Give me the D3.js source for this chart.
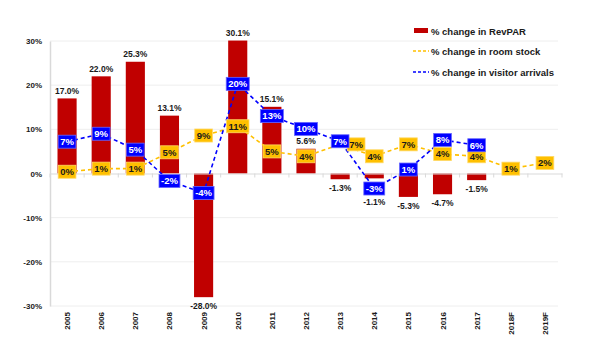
<!DOCTYPE html>
<html>
<head>
<meta charset="utf-8">
<script src="https://cdn.jsdelivr.net/npm/d3@7"></script>
<style>
  html, body { margin: 0; padding: 0; background: #fff; }
  svg { display: block; font-family: "Liberation Sans", Arial, sans-serif; }
</style>
</head>
<body>
<svg id="chart" width="600" height="360"></svg>
<script>
const categories = ["2005","2006","2007","2008","2009","2010","2011","2012","2013","2014","2015","2016","2017","2018F","2019F"];
const revpar = [0.170, 0.220, 0.253, 0.131, -0.280, 0.301, 0.151, 0.056, -0.013, -0.011, -0.053, -0.047, -0.015, null, null];
const roomStock = [0.004, 0.011, 0.011, 0.048, 0.086, 0.107, 0.050, 0.039, 0.066, 0.039, 0.066, 0.044, 0.039, 0.011, 0.024];
const visitorArrivals = [0.072, 0.090, 0.054, -0.017, -0.044, 0.203, 0.130, 0.101, 0.073, -0.034, 0.009, 0.076, 0.064, null, null];
const yTicks = [-0.3, -0.2, -0.1, 0, 0.1, 0.2, 0.3];
const seriesNames = ["% change in RevPAR", "% change in room stock", "% change in visitor arrivals"];

const colors = { bar: "#C00000", stock: "#FFC000", visitors: "#0000FF" };
const font = "\"Liberation Sans\", Arial, sans-serif";

const svg = d3.select("#chart");
const plotLeft = 50, plotRight = 562, plotTop = 41, plotBottom = 306;

const x = d3.scaleBand().domain(categories).range([plotLeft, plotRight]).paddingInner(0.44).paddingOuter(0.22);
const y = d3.scaleLinear().domain([-0.3, 0.3]).range([plotBottom, plotTop]);
const cx = c => x(c) + x.bandwidth() / 2;
const locale = d3.formatLocale({ decimal: ".", thousands: ",", grouping: [3], currency: ["$", ""], minus: "-", percent: "%" });
const pct0 = locale.format(".0%");
const pct1 = locale.format(".1%");

// gridlines
svg.append("g").selectAll("line").data(yTicks.filter(t => t !== 0)).join("line")
  .attr("x1", plotLeft).attr("x2", 558)
  .attr("y1", d => y(d)).attr("y2", d => y(d))
  .attr("stroke", "#eeeeee").attr("stroke-width", 1);

// y axis
const yAxis = d3.axisLeft(y).tickValues(yTicks).tickFormat(pct0).tickSize(0).tickPadding(8);
const gy = svg.append("g").attr("transform", `translate(${plotLeft},0)`).call(yAxis);
gy.select(".domain").attr("stroke", "#d9d9d9").attr("stroke-width", 1.5);
gy.selectAll("text").attr("font-family", font).attr("font-size", 8).attr("font-weight", "bold").attr("fill", "#1a1a1a");

// bars
const barData = categories.map((c, i) => ({ c, i, v: revpar[i] })).filter(d => d.v !== null);
svg.append("g").selectAll("rect").data(barData).join("rect")
  .attr("x", d => x(d.c)).attr("width", x.bandwidth())
  .attr("y", d => y(Math.max(0, d.v))).attr("height", d => Math.abs(y(d.v) - y(0)))
  .attr("fill", colors.bar);

// zero axis line with category ticks
const xAxis = d3.axisBottom(x).tickSize(0).tickFormat("");
const gx = svg.append("g").attr("transform", `translate(0,${y(0)})`).call(xAxis);
gx.select(".domain").attr("stroke", "#d9d9d9").attr("stroke-width", 1);
const boundaries = d3.range(categories.length + 1).map(i => plotLeft + i * x.step());
svg.append("g").selectAll("line").data(boundaries).join("line")
  .attr("x1", d => d).attr("x2", d => d).attr("y1", y(0)).attr("y2", y(0) + 4)
  .attr("stroke", "#d9d9d9").attr("stroke-width", 1);

// category labels
svg.append("g").selectAll("text").data(categories).join("text")
  .attr("transform", d => `translate(${cx(d) + 3},312) rotate(-90)`)
  .attr("text-anchor", "end")
  .attr("font-family", font).attr("font-size", 8).attr("font-weight", "bold").attr("fill", "#1a1a1a")
  .text(d => d);

// bar value labels (negative labels pushed below a visitor box that would cover them)
function barLabelY(d) {
  if (d.v >= 0) return y(d.v) - 4.5;
  let base = y(d.v) + 12;
  const vv = visitorArrivals[d.i];
  if (vv !== null) {
    const boxTop = y(vv) - 6.5, boxBottom = y(vv) + 6.5;
    if (base > boxTop && base - 8 < boxBottom) base = boxBottom + 10;
  }
  return base;
}
svg.append("g").selectAll("text").data(barData).join("text")
  .attr("x", d => cx(d.c))
  .attr("y", barLabelY)
  .attr("text-anchor", "middle")
  .attr("font-family", font).attr("font-size", 8.5).attr("font-weight", "bold").attr("fill", "#1a1a1a")
  .text(d => pct1(d.v));

// lines
const line = d3.line().defined(d => d.v !== null).x(d => cx(d.c)).y(d => y(d.v));
const stockData = categories.map((c, i) => ({ c, v: roomStock[i] }));
const visData = categories.map((c, i) => ({ c, v: visitorArrivals[i] }));

svg.append("path").datum(stockData).attr("d", line)
  .attr("fill", "none").attr("stroke", colors.stock).attr("stroke-width", 1.6).attr("stroke-dasharray", "4,3");
svg.append("path").datum(visData.filter(d => d.v !== null)).attr("d", line)
  .attr("fill", "none").attr("stroke", colors.visitors).attr("stroke-width", 1.6).attr("stroke-dasharray", "4,3");

// boxed labels
function boxLabels(data, fill, textFill, stroke, dxFn) {
  const g = svg.append("g");
  data.filter(d => d.v !== null).forEach(d => {
    const txt = pct0(d.v);
    const px = cx(d.c) + dxFn(d), py = y(d.v);
    const t = g.append("text")
      .attr("x", px).attr("y", py + 3.3)
      .attr("text-anchor", "middle")
      .attr("font-family", font).attr("font-size", 9.5).attr("font-weight", "bold").attr("fill", textFill)
      .text(txt);
    const w = t.node().getComputedTextLength() + 4;
    g.insert("rect", () => t.node())
      .attr("x", px - w / 2).attr("y", py - 6.5).attr("width", w).attr("height", 13)
      .attr("fill", fill).attr("stroke", stroke).attr("stroke-width", 0.8);
  });
}
boxLabels(stockData, colors.stock, "#1a1a1a", "#FFD966", d => {
  const i = categories.indexOf(d.c);
  return (visitorArrivals[i] !== null && pct0(visitorArrivals[i]) === pct0(d.v)) ? 16 : 0;
});
boxLabels(visData, colors.visitors, "#ffffff", "#6666ff", d => 0);

// legend
const lg = svg.append("g");
const legendY = [31, 51, 72];
lg.append("rect").attr("x", 414).attr("y", legendY[0] - 3).attr("width", 14).attr("height", 5).attr("fill", colors.bar);
lg.append("line").attr("x1", 413).attr("x2", 429).attr("y1", legendY[1]).attr("y2", legendY[1])
  .attr("stroke", colors.stock).attr("stroke-width", 1.6).attr("stroke-dasharray", "3,2");
lg.append("line").attr("x1", 413).attr("x2", 429).attr("y1", legendY[2]).attr("y2", legendY[2])
  .attr("stroke", colors.visitors).attr("stroke-width", 1.6).attr("stroke-dasharray", "3,2");
lg.selectAll("text").data(seriesNames).join("text")
  .attr("x", 431).attr("y", (d, i) => legendY[i] + 3.5)
  .attr("font-family", font).attr("font-size", 9.5).attr("font-weight", "bold").attr("fill", "#1a1a1a")
  .text(d => d);
</script>
</body>
</html>
